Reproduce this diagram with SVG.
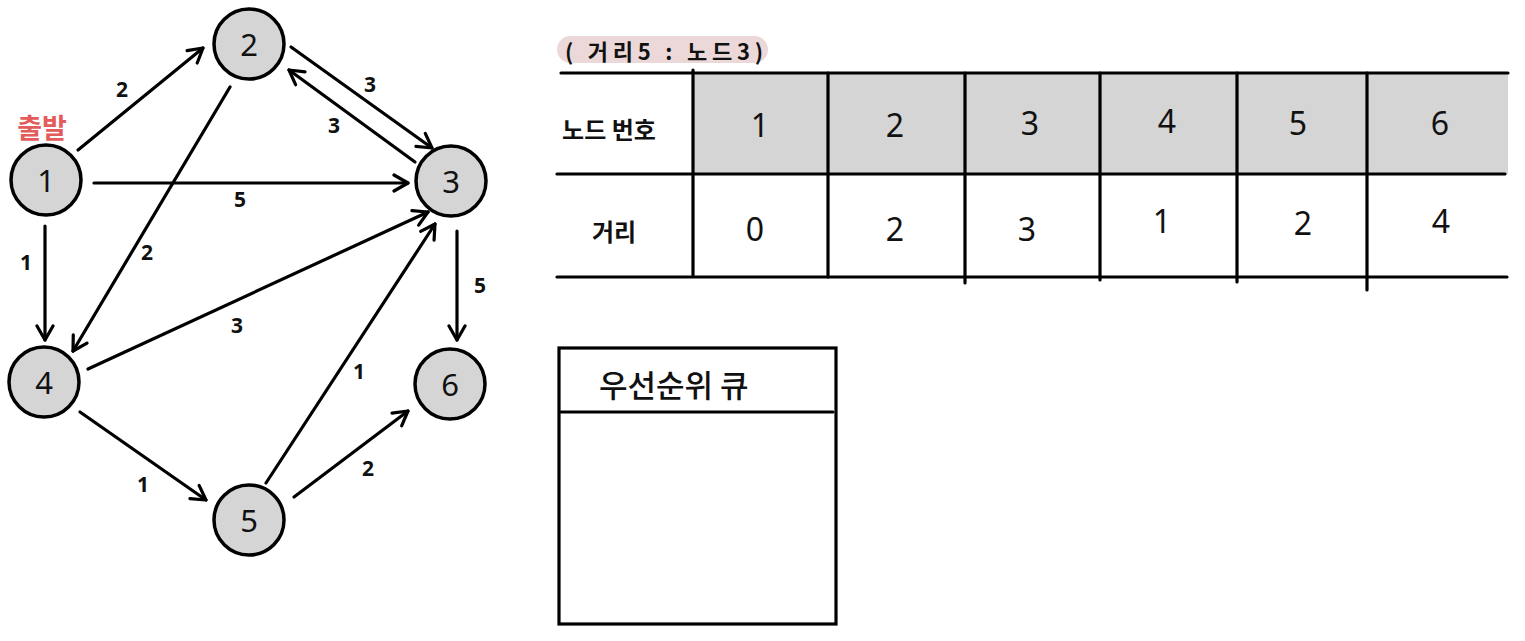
<svg xmlns="http://www.w3.org/2000/svg" width="1525" height="641" viewBox="0 0 1525 641">
<style>
.node circle{fill:#d5d5d5;stroke:#000;stroke-width:3.5}
.nt{font-family:"Noto Sans","Noto Sans CJK KR",sans-serif;font-size:31px;text-anchor:middle;dominant-baseline:central;fill:#111}
.el{font-family:"Noto Sans",sans-serif;font-size:21px;font-weight:bold;text-anchor:middle;dominant-baseline:central;fill:#111}
.edges line{stroke:#000;stroke-width:3.2;stroke-linecap:round;fill:none}
.ln{stroke:#000;stroke-width:3.2;stroke-linecap:round;fill:none}
.kr{font-family:"Noto Sans CJK KR",sans-serif;font-weight:bold;fill:#111;dominant-baseline:central}
.tn{font-family:"Noto Sans",sans-serif;font-size:32px;text-anchor:middle;dominant-baseline:central;fill:#111}
</style>
<defs>
<marker id="ah" viewBox="0 0 20 20" refX="18" refY="10" markerWidth="20" markerHeight="20" markerUnits="userSpaceOnUse" orient="auto">
<path d="M4,2 L18,10 L4,18" fill="none" stroke="#000" stroke-width="3.2" stroke-linecap="round" stroke-linejoin="round"/>
</marker>
</defs>
<rect width="1525" height="641" fill="#fff"/>

<g class="edges" id="connectors">
<line x1="78" y1="150" x2="203" y2="48" marker-end="url(#ah)"/>
<line x1="94" y1="183" x2="408" y2="183" marker-end="url(#ah)"/>
<line x1="291" y1="47" x2="432" y2="148" marker-end="url(#ah)"/>
<line x1="415" y1="162" x2="289" y2="70" marker-end="url(#ah)"/>
<line x1="230" y1="87" x2="73" y2="351" marker-end="url(#ah)"/>
<line x1="45" y1="226" x2="45" y2="340" marker-end="url(#ah)"/>
<line x1="88" y1="369" x2="428" y2="212" marker-end="url(#ah)"/>
<line x1="266" y1="483" x2="435" y2="224" marker-end="url(#ah)"/>
<line x1="457" y1="231" x2="457" y2="340" marker-end="url(#ah)"/>
<line x1="80" y1="412" x2="206" y2="500" marker-end="url(#ah)"/>
<line x1="294" y1="497" x2="408" y2="411" marker-end="url(#ah)"/>
<text class="el" x="122" y="89">2</text>
<text class="el" x="240" y="199">5</text>
<text class="el" x="370" y="84">3</text>
<text class="el" x="334" y="125">3</text>
<text class="el" x="147" y="252">2</text>
<text class="el" x="26" y="262">1</text>
<text class="el" x="237" y="325">3</text>
<text class="el" x="359" y="371">1</text>
<text class="el" x="480" y="285">5</text>
<text class="el" x="143" y="484">1</text>
<text class="el" x="368" y="468">2</text>
</g>

<text class="kr" x="42" y="126" font-size="27" text-anchor="middle" style="fill:#e35b5b">출발</text>

<g class="node" id="node1"><circle cx="46" cy="180" r="35"/><text class="nt" x="46" y="180">1</text></g>
<g class="node" id="node2"><circle cx="249" cy="44" r="35"/><text class="nt" x="249" y="44">2</text></g>
<g class="node" id="node3"><circle cx="451" cy="181" r="35"/><text class="nt" x="451" y="181">3</text></g>
<g class="node" id="node4"><circle cx="44" cy="382" r="35"/><text class="nt" x="44" y="382">4</text></g>
<g class="node" id="node5"><circle cx="249" cy="520" r="35"/><text class="nt" x="249" y="520">5</text></g>
<g class="node" id="node6"><circle cx="450" cy="384" r="35"/><text class="nt" x="450" y="384">6</text></g>

<g id="status">
<rect x="557" y="36" width="211" height="27" rx="13.5" fill="#ecd8d9"/>
<text class="kr" x="565" y="50" font-size="22" textLength="198" lengthAdjust="spacing">( 거리5 : 노드3)</text>
</g>

<g id="table">
<rect x="693" y="73" width="815" height="101" fill="#d5d5d5"/>
<line class="ln" x1="561" y1="73" x2="1508" y2="73"/>
<line class="ln" x1="557" y1="174" x2="1505" y2="174"/>
<line class="ln" x1="557" y1="277" x2="1507" y2="277"/>
<line class="ln" x1="693" y1="70" x2="693" y2="275"/>
<line class="ln" x1="828" y1="73" x2="828" y2="277"/>
<line class="ln" x1="965" y1="73" x2="965" y2="283"/>
<line class="ln" x1="1100" y1="73" x2="1100" y2="280"/>
<line class="ln" x1="1237" y1="73" x2="1237" y2="282"/>
<line class="ln" x1="1367" y1="73" x2="1367" y2="290"/>
<text class="kr" x="609" y="128" font-size="24" text-anchor="middle">노드 번호</text>
<text class="kr" x="614" y="230" font-size="24" text-anchor="middle">거리</text>
<text class="tn" x="760" y="124">1</text>
<text class="tn" x="895" y="124">2</text>
<text class="tn" x="1030" y="122">3</text>
<text class="tn" x="1167" y="120">4</text>
<text class="tn" x="1298" y="122">5</text>
<text class="tn" x="1440" y="122">6</text>
<text class="tn" x="755" y="228">0</text>
<text class="tn" x="895" y="228">2</text>
<text class="tn" x="1027" y="228">3</text>
<text class="tn" x="1162" y="220">1</text>
<text class="tn" x="1303" y="222">2</text>
<text class="tn" x="1441" y="220">4</text>
</g>

<g id="pq">
<rect x="559" y="348" width="277" height="276" fill="none" stroke="#000" stroke-width="3.2"/>
<line class="ln" x1="561" y1="412" x2="833" y2="412"/>
<text x="599" y="383" font-family="Noto Sans CJK KR, sans-serif" font-size="31" font-weight="500" fill="#111" dominant-baseline="central">우선순위 큐</text>
</g>
</svg>
